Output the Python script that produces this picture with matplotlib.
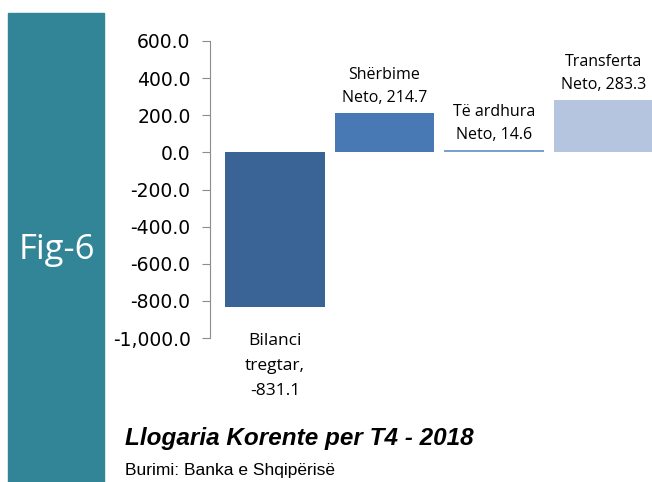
import matplotlib.pyplot as plt
import matplotlib.patches as mpatches

plt.rcParams['font.family'] = ['Open Sans', 'DejaVu Sans']

names = ['Bilanci\ntregtar,', 'Shërbime\nNeto,', 'Të ardhura\nNeto,', 'Transferta\nNeto,']
values = [-831.1, 214.7, 14.6, 283.3]
colors = ['#3b6496', '#4979b4', '#7b9fd2', '#b5c4df']
yticks = [600, 400, 200, 0, -200, -400, -600, -800, -1000]

fig = plt.figure(figsize=(6.52, 4.82), dpi=100)

# teal side band with figure number
fig.patches.append(mpatches.Rectangle((8 / 652, 0), 96 / 652, 1 - 13 / 482,
                                      transform=fig.transFigure, color='#318597', zorder=0))
fig.text(57 / 652, 1 - 250 / 482, 'Fig-6', color='white', fontsize=25,
         ha='center', va='center')

ax = fig.add_axes([210 / 652, 1 - 338 / 482, 442 / 652, 297 / 482])
x = range(len(values))
ax.bar(x, values, width=0.91, color=colors)
ax.set_xlim(-0.594, 3.443)
ax.set_ylim(-1000, 600)
ax.set_yticks(yticks)
ax.set_yticklabels(['{:,.1f}'.format(v) for v in yticks], fontsize=13.5,
                   family='DejaVu Sans')
ax.set_xticks([])
for s in ['top', 'right', 'bottom']:
    ax.spines[s].set_visible(False)
ax.spines['left'].set_color('#8c8c8c')
ax.tick_params(axis='y', color='#8c8c8c', length=6, pad=8)

for i, (n, v) in enumerate(zip(names, values)):
    if v >= 0:
        ax.annotate(n + ' {:.1f}'.format(v), (i, v), xytext=(0, 5),
                    textcoords='offset points', ha='center', va='bottom',
                    fontsize=11.5, linespacing=1.55)
    else:
        ax.annotate(n + '\n{:.1f}'.format(v), (i, v), xytext=(0, -19),
                    textcoords='offset points', ha='center', va='top',
                    fontsize=12.5, linespacing=1.75)

fig.text(125 / 652, 1 - 438 / 482, 'Llogaria Korente per T4 - 2018', fontsize=17.5,
         fontweight='bold', fontstyle='italic', va='center', family='Liberation Sans')
fig.text(125 / 652, 1 - 471 / 482, 'Burimi: Banka e Shqipërisë', fontsize=12.5,
         va='center', family='Liberation Sans')

fig.savefig('out.png', dpi=100)
